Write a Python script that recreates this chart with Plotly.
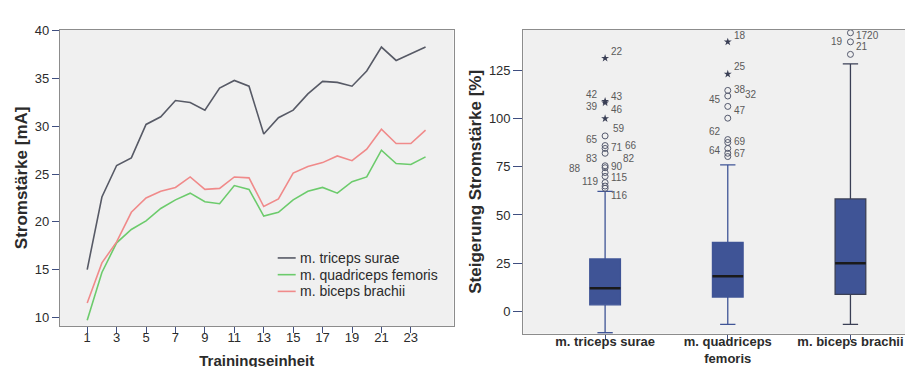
import plotly.graph_objects as go

# ---------------- data: left line chart ----------------
sessions = list(range(1, 25))
triceps = [15.0, 22.6, 25.9, 26.7, 30.2, 31.0, 32.7, 32.5, 31.7, 34.0, 34.8, 34.2,
           29.2, 30.9, 31.7, 33.4, 34.7, 34.6, 34.2, 35.8, 38.3, 36.9, 37.6, 38.3]
quadriceps = [9.7, 14.7, 17.8, 19.2, 20.1, 21.4, 22.3, 23.0, 22.1, 21.9, 23.8, 23.4,
              20.6, 21.0, 22.3, 23.2, 23.6, 23.0, 24.2, 24.7, 27.5, 26.1, 26.0, 26.8]
biceps = [11.5, 15.7, 17.9, 21.0, 22.5, 23.2, 23.6, 24.7, 23.4, 23.5, 24.7, 24.6,
          21.6, 22.4, 25.1, 25.8, 26.2, 26.9, 26.4, 27.6, 29.7, 28.2, 28.2, 29.6]
line_names = ["m. triceps surae", "m. quadriceps femoris", "m. biceps brachii"]
left_xticks = list(range(1, 24, 2))
left_yticks = [10, 15, 20, 25, 30, 35, 40]

# ---------------- data: right box plot ----------------
box_labels = ["m. triceps surae", "m. quadriceps<br>femoris", "m. biceps brachii"]
box_q1 = [3.4, 7.4, 8.8]
box_median = [12.0, 18.2, 25.0]
box_q3 = [27.2, 35.7, 58.3]
box_low = [-11.1, -6.8, -6.8]
box_high = [62.2, 76.0, 128.4]
right_yticks = [0, 25, 50, 75, 100, 125]

# extreme values (stars) and outliers (circles) per group
stars = [[131.3, 109.0, 108.2, 100.0], [139.8, 123.1], []]
circles = [[91.0, 86.0, 84.5, 82.0, 75.5, 74.5, 72.0, 70.0, 66.8, 65.0, 63.8],
           [114.6, 111.7, 106.3, 100.2, 89.1, 87.6, 84.5, 82.0, 80.3],
           [144.5, 139.8, 133.3]]
# case number labels: group, text, value
case_group = [0, 0, 0, 0, 0, 0, 0, 0, 0, 0, 0, 0, 0, 0, 0, 0,
              1, 1, 1, 1, 1, 1, 1, 1, 1, 1,
              2, 2, 2]
case_text = ["22", "42", "43", "39", "46", "59", "65", "71", "66", "83", "82", "88", "90", "115", "119", "116",
             "18", "25", "38", "32", "45", "47", "62", "69", "64", "67",
             "1720", "19", "21"]
case_value = [135.0, 112.5, 111.7, 106.4, 104.7, 95.0, 89.0, 85.0, 86.0, 79.4, 79.4, 74.0, 75.1, 69.2, 67.5, 60.2,
              143.2, 127.0, 115.1, 112.5, 110.0, 104.4, 93.2, 87.9, 83.2, 82.0,
              143.2, 139.8, 137.2]

# ---------------- styling ----------------
case_shift = [4, -5, 4, -5, 4, 6, -5, 4, 18, -5, 16, -22, 4, 4, -5, 4,
              4, 4, 4, 15, -5, 4, -5, 4, -5, 4,
              4, -5, 4]
FONT = "Liberation Sans, Arial, sans-serif"
BG = "#F0F0F0"
FRAME = "#8C8C8C"
TXT = "#2B2B2B"
BOXC = "#3F5496"
TICKC = "#3F4E80"
line_colors = ["#575A66", "#6CCB6C", "#F08A8A"]
W, H = 913, 367

fig = go.Figure()

for vals, name, col in zip([triceps, quadriceps, biceps], line_names, line_colors):
    fig.add_trace(go.Scatter(x=sessions, y=vals, mode="lines", name=name,
                             line=dict(color=col, width=1.6), showlegend=False,
                             xaxis="x", yaxis="y"))

# manual legend (inside the left plot)
leg_rows = [248, 265, 282]
for name, col, ry in zip(line_names, line_colors, leg_rows):
    fig.add_shape(type="line", xref="paper", yref="paper",
                  x0=270 / W, x1=288 / W, y0=1 - ry / H, y1=1 - ry / H,
                  line=dict(color=col, width=1.6))
    fig.add_annotation(xref="paper", yref="paper", x=290 / W, y=1 - ry / H,
                       text=name, showarrow=False, xanchor="left", yanchor="middle",
                       font=dict(family=FONT, size=14, color=TXT))

for i in range(3):
    fig.add_trace(go.Box(x=[i], q1=[box_q1[i]], median=[box_median[i]], q3=[box_q3[i]],
                         lowerfence=[box_low[i]], upperfence=[box_high[i]],
                         width=0.25, whiskerwidth=0.5,
                         fillcolor=BOXC, line=dict(color="#3A3F55" if i == 2 else BOXC, width=1.3),
                         boxpoints=False, showlegend=False, hoverinfo="skip",
                         xaxis="x2", yaxis="y2"))
    fig.add_trace(go.Scatter(x=[i - 0.125, i + 0.125], y=[box_median[i], box_median[i]],
                             mode="lines", line=dict(color="#1A1A1A", width=2.5),
                             showlegend=False, hoverinfo="skip", xaxis="x2", yaxis="y2"))
    if stars[i]:
        fig.add_trace(go.Scatter(x=[i] * len(stars[i]), y=stars[i], mode="markers",
                                 marker=dict(symbol="star", size=6, color="#3A3F55"),
                                 showlegend=False, hoverinfo="skip", cliponaxis=False,
                                 xaxis="x2", yaxis="y2"))
    fig.add_trace(go.Scatter(x=[i] * len(circles[i]), y=circles[i], mode="markers",
                             marker=dict(symbol="circle-open", size=6, color="#555A6E",
                                         line=dict(width=1)),
                             showlegend=False, hoverinfo="skip", cliponaxis=False,
                             xaxis="x2", yaxis="y2"))

for g, t, v, s in zip(case_group, case_text, case_value, case_shift):
    fig.add_annotation(x=g, y=v, xref="x2", yref="y2", text=t, showarrow=False,
                       xanchor="left" if s > 0 else "right", xshift=s,
                       font=dict(family=FONT, size=10, color="#5A5A5A"))

axis_common = dict(showgrid=False, zeroline=False, showline=True, linecolor=FRAME,
                   linewidth=1.2, mirror=True, ticks="outside",
                   tickcolor=TICKC, tickfont=dict(family=FONT, size=13, color=TXT))

fig.update_layout(
    width=W, height=H,
    margin=dict(l=0, r=0, t=0, b=0),
    paper_bgcolor="white", plot_bgcolor=BG,
    font=dict(family=FONT, color=TXT),
    xaxis=dict(domain=[0.057, 0.4885], range=[-0.85, 25.9], tickvals=left_xticks,
               ticklen=6, ticklabelstandoff=-7,
               title=dict(text="<b>Trainingseinheit</b>", font=dict(size=15), standoff=11),
               anchor="y", **axis_common),
    yaxis=dict(domain=[0.136, 0.956], range=[9.1, 40.1], tickvals=left_yticks,
               ticklen=7,
               title=dict(text="<b>Stromstärke [mA]</b>", font=dict(size=17), standoff=2),
               anchor="x", **axis_common),
    xaxis2=dict(domain=[0.565, 1.0], range=[-0.667, 2.567], tickvals=[0, 1, 2],
                ticktext=["<b>" + t + "</b>" for t in box_labels],
                ticklen=5, ticklabelstandoff=-9,
                anchor="y2", **axis_common),
    yaxis2=dict(domain=[0.1144, 0.956], range=[-11.6, 146], tickvals=right_yticks,
                ticklen=9,
                title=dict(text="<b>Steigerung Stromstärke [%]</b>", font=dict(size=17), standoff=2),
                anchor="x2", **axis_common),
    showlegend=False,
)

fig.write_html("out.html")
